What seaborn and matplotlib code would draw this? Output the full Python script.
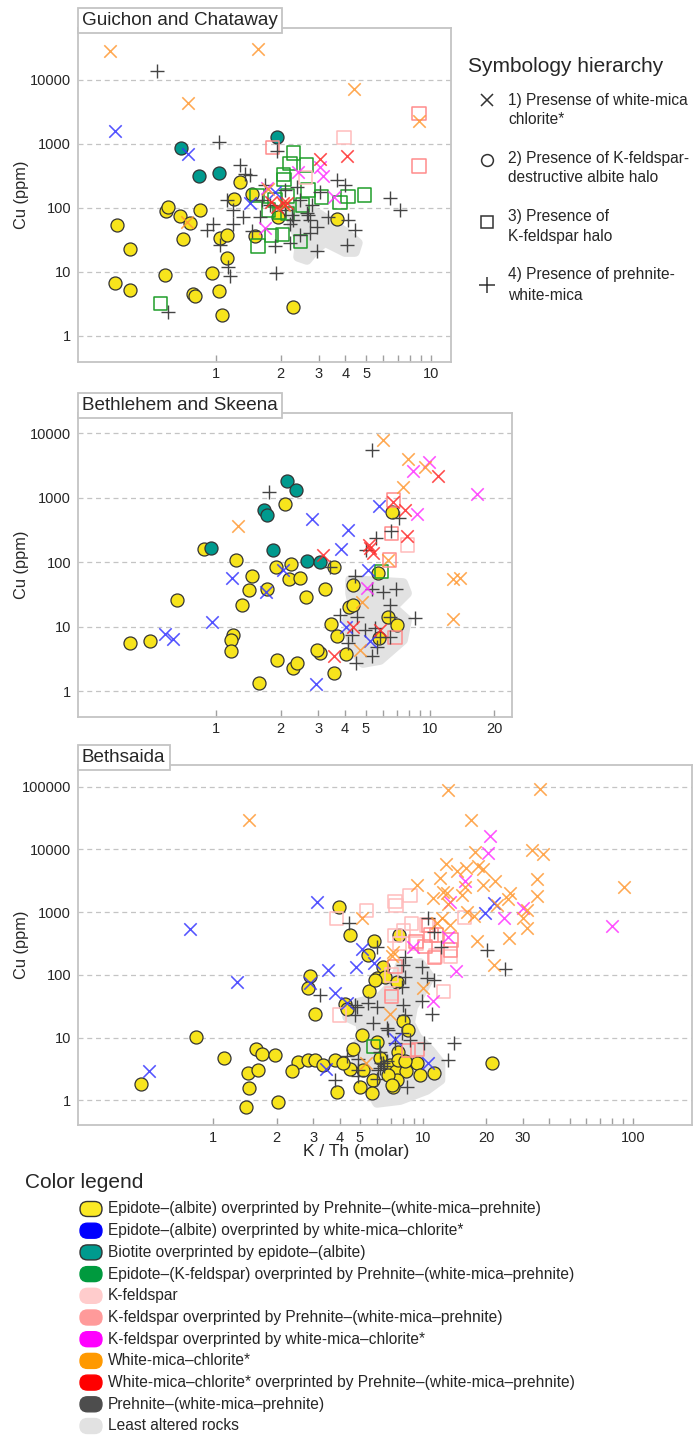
import numpy as np
import pandas as pd
import matplotlib
matplotlib.use("Agg")
import matplotlib.pyplot as plt
from matplotlib import font_manager
from matplotlib.patches import FancyBboxPatch
from matplotlib.lines import Line2D
from matplotlib.ticker import FixedLocator, FixedFormatter, NullLocator
import seaborn as sns

# ---------------- DATA (K/Th molar, Cu ppm) ----------------
# Panel 1: Guichon and Chataway
gc_ep_prh_x = [1.29,1.21,1.47,1.95,3.65,1.04,1.12,1.52,0.84,0.345,0.40,0.585,0.60,0.68,0.76,0.70,1.12,0.96,0.58,0.34,0.40,0.78,0.80,1.03,1.07,2.29]
gc_ep_prh_y = [250,138,165,73,66,34,38,37,92,54,22.5,90,105,75,59,33,16.4,9.5,9.1,6.8,5.2,4.6,4.2,5.0,2.1,2.8]
gc_ep_wmc_x = [0.34,0.74,1.44,1.88]
gc_ep_wmc_y = [1600,700,118,175]
gc_bio_ep_x = [0.69,1.92,0.83,1.03]
gc_bio_ep_y = [860,1280,310,350]
gc_epk_prh_x = [2.29,2.21,2.64,2.06,2.07,2.68,2.15,3.10,4.12,4.9,3.77,2.53,2.15,2.04,1.81,1.57,2.48,0.55,1.55,1.88,1.98,1.75]
gc_epk_prh_y = [720,490,470,330,275,190,154,148,150,160,121,111,81,38,37,25.5,30,3.2,155,133,84,93]
gc_kfs_x = [3.94,2.6]
gc_kfs_y = [1250,300]
gc_kfs_prh_x = [1.83,8.8,8.8]
gc_kfs_prh_y = [870,3000,450]
gc_kfs_wmc_x = [2.41,3.05,3.15,1.72,3.54,1.69]
gc_kfs_wmc_y = [370,440,310,205,148,48]
gc_wmc_x = [0.32,1.56,0.74,4.38,8.8,0.73,1.75,2.07]
gc_wmc_y = [28000,30500,4400,7200,2300,60,195,111]
gc_wmc_prh_x = [3.05,4.07,1.80,1.93,2.05,2.14]
gc_wmc_prh_y = [580,650,122,102,118,120]
gc_prh_x = [0.53,1.03,1.92,1.36,3.65,3.98,1.12,1.20,1.34,1.60,2.37,6.45,7.2,2.74,2.94,2.74,2.64,4.12,4.43,3.33,
            0.905,0.97,1.20,2.46,4.07,2.21,0.60,1.16,1.14,1.90,2.94,1.88,1.04,1.47,2.29,2.68,2.21,1.78,1.64,2.09,
            2.26,2.46,2.80,3.05,2.09,1.69,1.44,1.29]
gc_prh_y = [13800,1080,780,340,274,229,133,93,73,73,215,145,93,65,51,40,83,65,45,73,
            45,57,57,38,26.4,28,2.35,8.5,12,9.5,21.3,25,26.4,43,65,78,57,111,133,93,
            78,133,111,178,191,229,328,470]
gc_least_x = [2.21,2.46,3.05,3.98,4.57,4.43,3.98,3.21,2.89,2.65,2.41,2.46,2.26]
gc_least_y = [100,111,78,42,28.4,20.5,20.5,29.4,22,15.4,17.2,31.6,54]

# Panel 2: Bethlehem and Skeena
bs_ep_prh_x = [2.10,6.62,0.879,1.24,1.47,1.91,2.24,2.18,2.47,3.57,1.73,1.42,1.32,2.63,3.23,4.35,4.20,4.38,0.655,3.44,
               3.69,4.05,3.06,2.97,1.92,2.30,2.40,1.20,1.17,1.17,0.394,0.492,1.58,3.56,6.38,6.99,5.80,5.73]
bs_ep_prh_y = [793,596,159,108,61,85,94,54,56,85,38,37,21.6,29,39,44,20.4,22,26,10.9,
               7.1,3.8,3.9,4.3,3.0,2.3,2.7,7.4,6.2,4.2,5.5,6.0,1.32,1.9,14.3,10.6,6.6,67]
bs_ep_wmc_x = [2.82,4.15,5.80,3.84,1.18,1.71,0.955,0.579,0.628,2.05,5.15,4.05,5.25,2.92]
bs_ep_wmc_y = [464,316,754,159,56,34,11.9,7.6,6.4,76,76,9.8,6.0,1.29]
bs_bio_ep_x = [2.15,2.36,1.68,1.73,0.944,1.85,2.67,3.06]
bs_bio_ep_y = [1820,1320,647,541,164,155,104,102]
bs_epk_prh_x = [5.95]
bs_epk_prh_y = [71]
bs_kfs_x = [7.87]
bs_kfs_y = [185]
bs_kfs_prh_x = [6.74,6.62,6.86,6.45]
bs_kfs_prh_y = [925,281,6.7,108]
bs_kfs_wmc_x = [9.93,8.36,8.67,16.5,5.06]
bs_kfs_wmc_y = [3560,2610,554,1130,40]
bs_wmc_x = [6.01,7.92,9.48,7.51,1.26,4.80,4.71,12.8,13.8,12.8,6.38]
bs_wmc_y = [7900,4000,3040,1450,365,24,4.3,54,56,13.1,108]
bs_wmc_prh_x = [10.9,7.64,7.78,5.25,6.74,3.17,5.43,5.84,4.38,3.56,5.2]
bs_wmc_prh_y = [2200,647,258,164,870,129,137,8.9,9.8,3.5,185]
bs_prh_x = [5.34,1.77,7.19,6.55,5.59,5.02,3.80,4.54,4.46,5.34,6.01,6.93,6.50,8.51,6.50,5.53,5.84,6.50,4.31,4.15,
            5.63,5.34,4.51,4.97,3.41]
bs_prh_y = [5500,1240,490,305,240,155,15.1,14.3,60,38,35,39,22,13.5,14.3,9.4,7.0,7.0,7.4,5.5,
            4.9,3.5,2.7,8.9,85]
bs_least_x = [4.23,7.48,7.81,6.71,7.81,7.48,5.84,4.86,4.37,4.23,4.09,4.37,4.23]
bs_least_y = [53,47.5,33,20,12.7,6.2,3.03,2.72,4.33,6.9,12.7,20,33]

# Panel 3: Bethsaida
be_ep_prh_x = [3.98,4.48,5.83,7.70,5.48,6.47,6.01,6.59,7.54,2.89,2.84,5.54,4.24,4.32,3.05,8.0,8.51,5.10,6.01,4.65,
               2.54,2.84,3.05,2.36,3.34,3.80,4.48,5.19,6.23,6.95,7.43,8.30,9.39,9.68,11.3,5.79,7.49,5.0,5.69,7.21,
               3.90,7.62,7.62,0.825,1.12,1.60,1.70,1.97,1.46,1.63,1.48,1.43,2.04,0.451,4.17,5.90,8.20,6.83,7.09,21.3]
be_ep_prh_y = [1200,433,347,433,208,135,88,94,76,96,61,56,34,29,24,18.6,13.2,11.0,8.6,6.5,
               4.1,4.4,4.4,2.9,3.7,4.4,3.1,3.0,4.7,3.7,2.9,2.9,3.9,2.5,2.75,2.1,2.1,1.65,1.29,1.65,
               1.37,6.0,4.4,10.1,4.7,6.5,5.5,5.3,2.7,3.0,1.6,0.77,0.95,1.8,4.0,83,4.3,2.5,1.75,3.9]
be_ep_wmc_x = [0.773,3.13,19.8,21.7,5.10,5.83,4.79,3.53,3.80,4.32,2.89,7.35,10.6,3.44,1.30,0.494]
be_ep_wmc_y = [540,1470,960,1390,256,157,132,120,51,35,73,9.4,3.9,3.1,78,2.9]
be_epk_prh_x = [5.79]
be_epk_prh_y = [7.2]
be_kfs_x = [3.87,5.38,8.67,7.35,7.43,8.83,15.7,8.05,7.70,7.35,10.4,9.33,7.09,7.09,12.5,3.98,11.5,13.5]
be_kfs_y = [800,1060,1830,1470,1270,665,830,507,319,422,625,319,100,51,54,23,200,195]
be_kfs_prh_x = [10.6,10.9,11.6,9.26,10.2,13.6,13.5,11.3,7.35,7.09,8.51,9.39]
be_kfs_prh_y = [610,433,433,339,282,361,249,191,135,45,6.3,6.5]
be_kfs_wmc_x = [20.9,20.4,15.9,13.5,30.1,24.2,79.6,13.2,8.93,14.4,11.2]
be_kfs_wmc_y = [16400,8900,3140,1470,1150,817,610,406,276,117,39]
be_wmc_x = [1.47,13.1,36.2,16.9,17.6,33.2,37.5,12.9,14.5,16.0,18.2,19.3,12.1,22.1,19.4,15.9,9.4,35.1,90.4,12.5,
            11.2,26.0,15.3,34.9,13.1,25.5,22.5,16.2,17.4,31.3,30.1,31.3,12.3,13.5,18.0,25.8,11.6,7.2,5.1,7.1,
            10.0,6.95,5.35,13.0,21.7]
be_wmc_y = [29500,88900,91200,29500,9000,9800,8500,5900,4600,5000,5500,4800,3500,3100,2700,2550,2700,3400,2550,2100,
            1670,2000,1880,1830,1350,1610,1300,1020,870,1080,800,550,800,625,347,384,665,234,800,200,
            61,24,4.0,2000,144]
be_prh_x = [4.42,10.6,11.3,12.2,20.1,6.01,8.20,8.0,9.86,8.20,10.4,11.3,9.86,11.0,7.91,8.05,8.20,3.22,4.83,5.48,
            4.73,5.79,6.83,7.35,10.1,14.0,13.2,6.23,6.47,4.91,3.80,6.01,4.73,6.01,4.32,4.91,4.91,24.6,6.71,7.91,
            8.67,6.12,8.36,6.3,6.5,6.7,6.2]
be_prh_y = [665,800,489,282,249,282,195,144,135,94,88,83,39,24,63,33,23,48,31,35,
            23,17.3,13.2,8.3,8.1,8.3,4.4,6.0,3.9,2.4,2.1,2.2,33,31,5.0,4.5,3.0,123,14.1,12.0,
            9.2,3.0,1.65,4.0,3.5,4.2,3.3]
be_least_x = [7.77,9.68,10.8,10.0,8.96,8.67,9.36,10.8,12.1,12.1,10.4,7.77,6.03,5.58,5.77,4.84,4.63,5.17,5.0,4.34,4.84,6.24,7.19]
be_least_y = [144,155,93,57,30.8,17.1,10.2,6.3,3.94,2.11,1.46,1.01,0.91,1.46,2.35,3.94,6.3,10.2,17.1,21.3,35.6,44.4,74]

panel_titles = ["Guichon and Chataway", "Bethlehem and Skeena", "Bethsaida"]
y_tick_values = [1, 10, 100, 1000, 10000, 100000]
y_tick_labels = ["1", "10", "100", "1000", "10000", "100000"]
x_tick_values_1 = [1, 2, 3, 4, 5, 6, 7, 8, 9, 10]
x_tick_values_2 = [1, 2, 3, 4, 5, 6, 7, 8, 9, 10, 20]
x_tick_values_3 = [1, 2, 3, 4, 5, 6, 7, 8, 9, 10, 20, 30, 40, 50, 60, 70, 80, 90, 100]
x_labelled = {1: "1", 2: "2", 3: "3", 4: "4", 5: "5", 10: "10", 20: "20", 30: "30", 100: "100"}

category_keys = ["ep_prh", "ep_wmc", "bio_ep", "epk_prh", "kfs", "kfs_prh", "kfs_wmc", "wmc", "wmc_prh", "prh", "least"]
category_labels = [
    "Epidote\u2013(albite) overprinted by Prehnite\u2013(white-mica\u2013prehnite)",
    "Epidote\u2013(albite) overprinted by white-mica\u2013chlorite*",
    "Biotite overprinted by epidote\u2013(albite)",
    "Epidote\u2013(K-feldspar) overprinted by Prehnite\u2013(white-mica\u2013prehnite)",
    "K-feldspar",
    "K-feldspar overprinted by Prehnite\u2013(white-mica\u2013prehnite)",
    "K-feldspar overprinted by white-mica\u2013chlorite*",
    "White-mica\u2013chlorite*",
    "White-mica\u2013chlorite* overprinted by Prehnite\u2013(white-mica\u2013prehnite)",
    "Prehnite\u2013(white-mica\u2013prehnite)",
    "Least altered rocks",
]
symbology_labels = [
    ("1) Presense of white-mica", "chlorite*"),
    ("2) Presence of K-feldspar-", "destructive albite halo"),
    ("3) Presence of", "K-feldspar halo"),
    ("4) Presence of prehnite-", "white-mica"),
]

# ---------------- STYLE ----------------
legend_colors = {
    "ep_prh": "#fbe925", "ep_wmc": "#0000ff", "bio_ep": "#009a8e", "epk_prh": "#009a3e",
    "kfs": "#ffcccc", "kfs_prh": "#ff9a9a", "kfs_wmc": "#ff00ff", "wmc": "#ff9900",
    "wmc_prh": "#ff0000", "prh": "#4d4d4d", "least": "#e2e2e2",
}
point_colors = {
    "ep_prh": "#f7e41c", "ep_wmc": "#3535ff", "bio_ep": "#009a8e", "epk_prh": "#1f9e2a",
    "kfs": "#ffbcbc", "kfs_prh": "#ff8c8c", "kfs_wmc": "#ff33ff", "wmc": "#ff9933",
    "wmc_prh": "#ff2a2a", "prh": "#444444",
}
marker_of = {"ep_prh": "o", "bio_ep": "o", "epk_prh": "s", "kfs": "s", "kfs_prh": "s",
             "ep_wmc": "x", "kfs_wmc": "x", "wmc": "x", "wmc_prh": "x", "prh": "+"}

sns.set_theme(style="white")
names = {f.name for f in font_manager.fontManager.ttflist}
BASE = "Liberation Sans" if "Liberation Sans" in names else "DejaVu Sans"
NARROW = "Liberation Sans Narrow" if "Liberation Sans Narrow" in names else None
plt.rcParams["font.family"] = [BASE, "DejaVu Sans"]
if NARROW:
    leg_family, leg_size = [NARROW, BASE, "DejaVu Sans"], 13.2
else:
    leg_family, leg_size = [BASE, "DejaVu Sans"], 11.2
TXT = "#262626"

W, H = 693, 1437
fig = plt.figure(figsize=(W / 100, H / 100), dpi=100)


def axes_px(x0, y0, x1, y1):
    return fig.add_axes([x0 / W, 1 - y1 / H, (x1 - x0) / W, (y1 - y0) / H])


def fx(px):
    return px / W


def fy(py):
    return 1 - py / H


def draw_points(ax, key, xs, ys):
    m = marker_of[key]
    c = point_colors[key]
    if m == "o":
        sns.scatterplot(x=xs, y=ys, ax=ax, marker="o", s=88, color=c, edgecolor="#333333",
                        linewidth=0.9, zorder=3, legend=False)
    elif m == "s":
        sns.scatterplot(x=xs, y=ys, ax=ax, marker="s", s=92, color=c, facecolor="none", edgecolor=c,
                        linewidth=1.1, zorder=4, legend=False)
    elif m == "x":
        sns.scatterplot(x=xs, y=ys, ax=ax, marker="x", s=80, color=c, linewidth=1.15, alpha=0.85,
                        zorder=6, legend=False)
    else:
        sns.scatterplot(x=xs, y=ys, ax=ax, marker="+", s=105, color=c, linewidth=1.0,
                        zorder=5, legend=False)


def style_axes(ax, title, xlim, ylim, xticks, n_yticks, ylabel_px):
    ax.set_xscale("log")
    ax.set_yscale("log")
    ax.set_xlim(*xlim)
    ax.set_ylim(*ylim)
    ax.yaxis.set_major_locator(FixedLocator(y_tick_values[:n_yticks]))
    ax.yaxis.set_major_formatter(FixedFormatter(y_tick_labels[:n_yticks]))
    ax.yaxis.set_minor_locator(NullLocator())
    ax.xaxis.set_major_locator(FixedLocator(xticks))
    ax.xaxis.set_major_formatter(FixedFormatter([x_labelled.get(t, "") for t in xticks]))
    ax.xaxis.set_minor_locator(NullLocator())
    ax.tick_params(axis="y", left=True, length=0, pad=5, labelsize=10.5, labelcolor=TXT)
    ax.tick_params(axis="x", bottom=True, direction="in", length=5, width=1.0, color="#a0a0a0", pad=4,
                   labelsize=10.5, labelcolor=TXT)
    ax.yaxis.grid(True, which="major", linestyle=(0, (4, 3)), color="#c4c4c4", linewidth=0.9)
    ax.xaxis.grid(False)
    ax.set_axisbelow(True)
    for sp in ax.spines.values():
        sp.set_color("#c4c4c4")
        sp.set_linewidth(1.3)
    ax.set_xlabel("")
    ax.set_ylabel("Cu (ppm)", fontsize=11.8, color=TXT)
    bb = ax.get_position()
    ax.yaxis.set_label_coords((ylabel_px - 78) / (bb.width * W), 0.5)
    ax.annotate(title, xy=(0, 1), xycoords="axes fraction", xytext=(2.8, 5.4),
                textcoords="offset points", ha="left", va="center", fontsize=13.6, color=TXT,
                bbox=dict(boxstyle="square,pad=0.22", fc="white", ec="#c4c4c4", lw=1.3),
                zorder=20, annotation_clip=False)


panels = [
    dict(box=(78, 28.3, 451, 361.7), xlim=(0.228, 12.4), ylim=(0.396, 64000), xt=x_tick_values_1, ny=5,
         least=(gc_least_x, gc_least_y),
         pts={"ep_prh": (gc_ep_prh_x, gc_ep_prh_y), "bio_ep": (gc_bio_ep_x, gc_bio_ep_y),
              "epk_prh": (gc_epk_prh_x, gc_epk_prh_y), "kfs": (gc_kfs_x, gc_kfs_y),
              "kfs_prh": (gc_kfs_prh_x, gc_kfs_prh_y), "prh": (gc_prh_x, gc_prh_y),
              "ep_wmc": (gc_ep_wmc_x, gc_ep_wmc_y), "kfs_wmc": (gc_kfs_wmc_x, gc_kfs_wmc_y),
              "wmc": (gc_wmc_x, gc_wmc_y), "wmc_prh": (gc_wmc_prh_x, gc_wmc_prh_y)}),
    dict(box=(78, 413.3, 511.7, 716.7), xlim=(0.226, 24.1), ylim=(0.399, 20500), xt=x_tick_values_2, ny=5,
         least=(bs_least_x, bs_least_y),
         pts={"ep_prh": (bs_ep_prh_x, bs_ep_prh_y), "bio_ep": (bs_bio_ep_x, bs_bio_ep_y),
              "epk_prh": (bs_epk_prh_x, bs_epk_prh_y), "kfs": (bs_kfs_x, bs_kfs_y),
              "kfs_prh": (bs_kfs_prh_x, bs_kfs_prh_y), "prh": (bs_prh_x, bs_prh_y),
              "ep_wmc": (bs_ep_wmc_x, bs_ep_wmc_y), "kfs_wmc": (bs_kfs_wmc_x, bs_kfs_wmc_y),
              "wmc": (bs_wmc_x, bs_wmc_y), "wmc_prh": (bs_wmc_prh_x, bs_wmc_prh_y)}),
    dict(box=(78, 765, 691.7, 1125), xlim=(0.226, 191), ylim=(0.404, 222000), xt=x_tick_values_3, ny=6,
         least=(be_least_x, be_least_y),
         pts={"ep_prh": (be_ep_prh_x, be_ep_prh_y),
              "epk_prh": (be_epk_prh_x, be_epk_prh_y), "kfs": (be_kfs_x, be_kfs_y),
              "kfs_prh": (be_kfs_prh_x, be_kfs_prh_y), "prh": (be_prh_x, be_prh_y),
              "ep_wmc": (be_ep_wmc_x, be_ep_wmc_y), "kfs_wmc": (be_kfs_wmc_x, be_kfs_wmc_y),
              "wmc": (be_wmc_x, be_wmc_y)}),
]

axes = []
for p, title in zip(panels, panel_titles):
    ax = axes_px(*p["box"])
    ax.set_xscale("log")
    ax.set_yscale("log")
    lx, ly = p["least"]
    ax.fill(lx, ly, facecolor=legend_colors["least"], edgecolor=legend_colors["least"],
            linewidth=7, joinstyle="round", zorder=1)
    for key in ["ep_prh", "bio_ep", "epk_prh", "kfs", "kfs_prh", "prh", "ep_wmc", "kfs_wmc", "wmc", "wmc_prh"]:
        if key in p["pts"]:
            xs, ys = p["pts"][key]
            draw_points(ax, key, xs, ys)
    style_axes(ax, title, p["xlim"], p["ylim"], p["xt"], p["ny"], 29)
    axes.append(ax)

ax3 = axes[2]
ax3.set_xlabel("K / Th (molar)", fontsize=12.5, color=TXT)
ax3.xaxis.set_label_coords((356 - 78) / 613.7, -(1144 - 1125) / 360)
ax3.xaxis.label.set_va("top")

# ---------------- Symbology hierarchy ----------------
fig.text(fx(468), fy(67), "Symbology hierarchy", fontsize=15, ha="left", va="center", color=TXT)
sym_markers = ["x", "o", "s", "+"]
sym_sizes = [8.5, 8.5, 8.5, 12]
sym_text_y = [100, 158, 217, 275]
sym_marker_y = [100, 160, 222, 285]
for (l1, l2), m, ms, ty, my in zip(symbology_labels, sym_markers, sym_sizes, sym_text_y, sym_marker_y):
    fig.add_artist(Line2D([fx(487)], [fy(my)], transform=fig.transFigure, marker=m, ms=ms,
                          mfc="none", mec="#333333", mew=1.1, ls="none"))
    fig.text(fx(508), fy(ty), l1, family=leg_family, fontsize=leg_size, ha="left", va="center", color=TXT)
    fig.text(fx(508), fy(ty + 20), l2, family=leg_family, fontsize=leg_size, ha="left", va="center", color=TXT)

# ---------------- Color legend ----------------
fig.text(fx(25), fy(1183), "Color legend", fontsize=15, ha="left", va="center", color=TXT)
for i, (key, label) in enumerate(zip(category_keys, category_labels)):
    yc = 1209 + i * 21.7
    ec = "#333333" if key in ("ep_prh", "bio_ep") else legend_colors[key]
    patch = FancyBboxPatch((80 / 100, (H - yc - 7.5) / 100), 0.22, 0.15,
                           boxstyle="round,pad=0,rounding_size=0.075",
                           transform=fig.dpi_scale_trans, fc=legend_colors[key], ec=ec, lw=1.0)
    fig.add_artist(patch)
    fig.text(fx(108), fy(yc), label, family=leg_family, fontsize=leg_size, ha="left", va="center", color=TXT)

fig.savefig("out.png", dpi=100)
